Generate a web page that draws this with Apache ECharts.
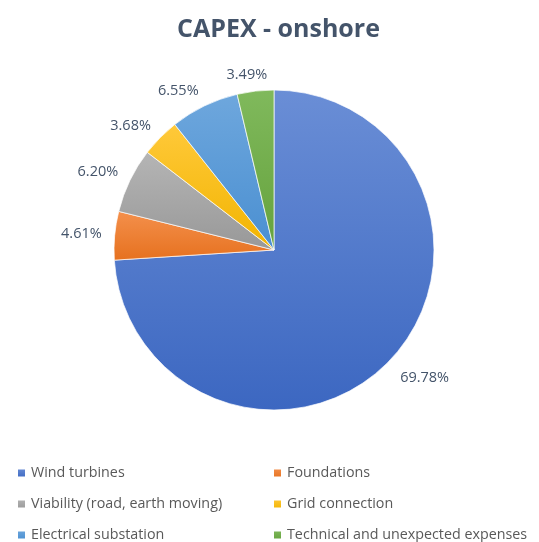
<!DOCTYPE html>
<html>
<head>
<meta charset="utf-8">
<script src="https://cdn.jsdelivr.net/npm/echarts@6/dist/echarts.min.js"></script>
<style>html,body{margin:0;padding:0;background:#fff;}#c{width:539px;height:542px;}</style>
</head>
<body>
<div id="c"></div>
<script>
const categories = ['Wind turbines', 'Foundations', 'Viability (road, earth moving)', 'Grid connection', 'Electrical substation', 'Technical and unexpected expenses'];
const values = [69.78, 4.61, 6.20, 3.68, 6.55, 3.49];
const colorsTop = ['#6a8ed6', '#f4904c', '#b5b5b5', '#ffc93a', '#6ea7dd', '#80b95c'];
const colorsBottom = ['#3c67c1', '#e6711f', '#989898', '#f2b400', '#4a8fd1', '#65a23d'];
// legend grid: [column, row] per category
const legendCol = [0, 1, 0, 1, 0, 1];
const legendRow = [0, 0, 1, 1, 2, 2];

const CX = 274, CY = 250, R = 160, GAP = 13;
const total = values.reduce((a, b) => a + b, 0);
const cum = [];
values.reduce((a, b, i) => { cum[i] = a; return a + b; }, 0);
const clamp = v => Math.max(-1, Math.min(1, v));

const FONT = '"Open Sans", "Liberation Sans", sans-serif';
const colLeft = [16, 272];
const rowTop = [466, 497, 528];

const legends = categories.map((n, i) => ({
  data: [n], orient: 'horizontal', left: colLeft[legendCol[i]], top: rowTop[legendRow[i]],
  padding: 0, itemWidth: 9, itemHeight: 9, icon: 'rect', selectedMode: false,
  textStyle: {fontFamily: FONT, fontSize: 14.3, color: '#595959'}
}));

const chart = echarts.init(document.getElementById('c'), null, {renderer: 'canvas'});
chart.setOption({
  animation: false,
  title: {
    text: 'CAPEX - onshore', left: 172, top: 12,
    textStyle: {fontFamily: FONT, fontWeight: 'bold', fontSize: 25, color: '#44546a'}
  },
  legend: legends,
  series: [{
    type: 'pie',
    center: [CX, CY],
    radius: R,
    startAngle: 90,
    clockwise: true,
    emphasis: {disabled: true},
    itemStyle: {borderColor: '#ffffff', borderWidth: 0.7},
    label: {
      show: true, position: 'outside',
      formatter: p => p.value.toFixed(2) + '%',
      fontFamily: FONT, fontSize: 14.5, color: '#44546a'
    },
    labelLine: {show: false},
    labelLayout: function (p) {
      const i = p.dataIndex;
      const a = (cum[i] + values[i] / 2) / total * Math.PI * 2;
      const dx = Math.sin(a), dy = -Math.cos(a);
      const w = p.labelRect.width;
      const px = CX + dx * (R + GAP), py = CY + dy * (R + GAP);
      const hy = dy < 0 ? 3 : 9;
      return {x: px + w / 2 * clamp(dx * 3), y: py + hy * clamp(dy * 3), align: 'center', verticalAlign: 'middle'};
    },
    data: categories.map((n, i) => ({
      name: n, value: values[i],
      itemStyle: {color: new echarts.graphic.LinearGradient(0, 0, 0, 1, [
        {offset: 0, color: colorsTop[i]}, {offset: 1, color: colorsBottom[i]}])}
    }))
  }]
});
</script>
</body>
</html>
